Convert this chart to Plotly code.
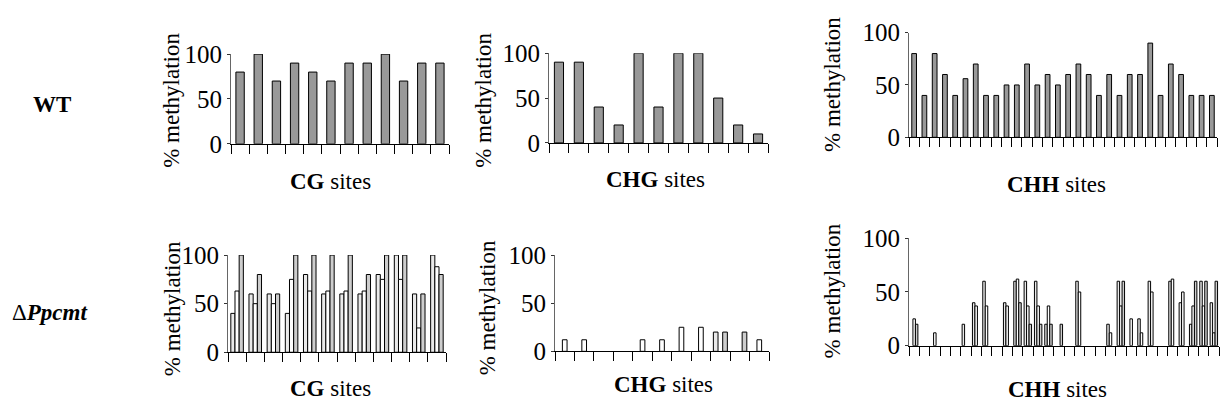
import plotly.graph_objects as go

# ---------------- data ----------------
wt_cg = [80, 100, 70, 90, 80, 70, 90, 90, 100, 70, 90, 90]
wt_chg = [90, 90, 40, 20, 100, 40, 100, 100, 50, 20, 10]
wt_chh = [80, 40, 80, 60, 40, 56, 70, 40, 40, 50, 50, 70, 50, 60, 50,
          60, 70, 60, 40, 60, 40, 60, 60, 90, 40, 70, 60, 40, 40, 40]

ko_cg_s1 = [40, 60, 60, 40, 80, 60, 60, 60, 80, 100, 60, 100]
ko_cg_s2 = [63, 50, 50, 75, 63, 63, 63, 63, 75, 75, 25, 88]
ko_cg_s3 = [100, 80, 60, 100, 100, 100, 100, 80, 100, 100, 60, 80]

ko_chg_s1 = [0, 0, 0, 0, 0, 0, 0, 0, 20, 0, 0]
ko_chg_s2 = [12, 12, 0, 0, 12, 12, 25, 25, 0, 0, 12]
ko_chg_s3 = [0, 0, 0, 0, 0, 0, 0, 0, 20, 20, 0]

ko_chh_s1 = [0, 0, 0, 0, 0, 20, 40, 60, 0, 40, 60, 60, 60, 20, 0,
             0, 60, 0, 0, 20, 60, 0, 25, 60, 0, 60, 40, 20, 60, 40]
ko_chh_s2 = [25, 0, 12, 0, 0, 0, 37, 37, 0, 37, 62, 37, 37, 37, 0,
             0, 50, 0, 0, 12, 37, 25, 12, 50, 0, 62, 50, 37, 37, 12]
ko_chh_s3 = [20, 0, 0, 0, 0, 0, 0, 0, 0, 0, 40, 20, 20, 20, 20,
             0, 0, 0, 0, 0, 60, 0, 0, 0, 0, 0, 0, 60, 60, 60]

y_ticks = [0, 50, 100]
row_labels = ["<b>WT</b>", "Δ<b><i>Ppcmt</i></b>"]
site_labels = ["<b>CG</b> sites", "<b>CHG</b> sites", "<b>CHH</b> sites"]
y_title = "% methylation"

# ---------------- layout geometry (pixels) ----------------
W, H = 1221, 413
FONT = "'Liberation Serif', 'DejaVu Serif', serif"
FS = 23

# (x_left, x_right, y_zero_px, y_100_px)
panels = [
    (231, 449, 140, 44),
    (549, 768, 139, 43),
    (909, 1217, 133, 21),
    (228, 446, 363, 259),
    (555, 769, 362, 259),
    (909, 1219, 356, 241),
]
ytitle_pos = [(172, 94), (484, 94), (833, 77), (172, 317), (487, 316), (833, 298)]
site_pos = [(330, 180), (655, 178), (1056, 183), (330, 402), (663, 397), (1057, 403)]

fig = go.Figure()

def px_x(x):
    return x / W

def px_y(y):
    return 1 - y / H

def nz(vals):
    return [v if v > 0 else None for v in vals]

single = [wt_cg, wt_chg, wt_chh]
triple = [(ko_cg_s1, ko_cg_s2, ko_cg_s3),
          (ko_chg_s1, ko_chg_s2, ko_chg_s3),
          (ko_chh_s1, ko_chh_s2, ko_chh_s3)]
s_colors = ["#e9e9e9", "#ffffff", "#cdcdcd"]

for i, (xl, xr, y0, y1) in enumerate(panels):
    k = i + 1
    xa = "x" if k == 1 else f"x{k}"
    ya = "y" if k == 1 else f"y{k}"
    if i < 3:
        vals = single[i]
        n = len(vals)
        fig.add_trace(go.Bar(
            x=list(range(1, n + 1)), y=vals, xaxis=xa, yaxis=ya,
            width=0.46, offset=-0.23,
            marker=dict(color="#999999", line=dict(color="black", width=1)),
            showlegend=False))
    else:
        groups = triple[i - 3]
        n = len(groups[0])
        bw = 0.23 if i == 3 else 0.24
        for j, vals in enumerate(groups):
            fig.add_trace(go.Bar(
                x=list(range(1, n + 1)), y=nz(vals), xaxis=xa, yaxis=ya,
                width=bw, offset=-1.5 * bw + j * bw,
                marker=dict(color=s_colors[j], line=dict(color="black", width=1)),
                showlegend=False))
    xkey = "xaxis" if k == 1 else f"xaxis{k}"
    ykey = "yaxis" if k == 1 else f"yaxis{k}"
    fig.layout[xkey] = dict(
        domain=[px_x(xl), px_x(xr)], anchor=ya, range=[0.5, n + 0.5],
        tickvals=[b + 0.5 for b in range(0, n + 1)], showticklabels=False,
        ticks="outside", ticklen=9, tickcolor="black", tickwidth=1,
        showline=True, linecolor="black", linewidth=1,
        showgrid=False, zeroline=False, fixedrange=True)
    fig.layout[ykey] = dict(
        domain=[px_y(y0), px_y(y1)], anchor=xa, range=[0, 100],
        tickvals=y_ticks, ticks="outside", ticklen=3, tickcolor="#333",
        showline=True, linecolor="#666", linewidth=1,
        showgrid=False, zeroline=False, fixedrange=True,
        tickfont=dict(family=FONT, size=FS + 2, color="black"))

annotations = []
for (x, y) in ytitle_pos:
    annotations.append(dict(x=px_x(x), y=px_y(y), xref="paper", yref="paper",
                            text=y_title, textangle=-90, showarrow=False,
                            xanchor="center", yanchor="middle",
                            font=dict(family=FONT, size=FS, color="black")))
for idx, (x, y) in enumerate(site_pos):
    annotations.append(dict(x=px_x(x), y=px_y(y), xref="paper", yref="paper",
                            text=site_labels[idx % 3], showarrow=False,
                            xanchor="center", yanchor="middle",
                            font=dict(family=FONT, size=FS, color="black")))
for lab, (x, y) in zip(row_labels, [(52, 98), (49, 320)]):
    annotations.append(dict(x=px_x(x), y=px_y(y), xref="paper", yref="paper",
                            text=lab, showarrow=False,
                            xanchor="center", yanchor="middle",
                            font=dict(family=FONT, size=FS, color="black")))

fig.update_layout(
    width=W, height=H, margin=dict(l=0, r=0, t=0, b=0),
    paper_bgcolor="white", plot_bgcolor="white",
    barmode="overlay", annotations=annotations,
    font=dict(family=FONT, size=FS, color="black"))

fig.write_html("out.html", config={"displayModeBar": False})
